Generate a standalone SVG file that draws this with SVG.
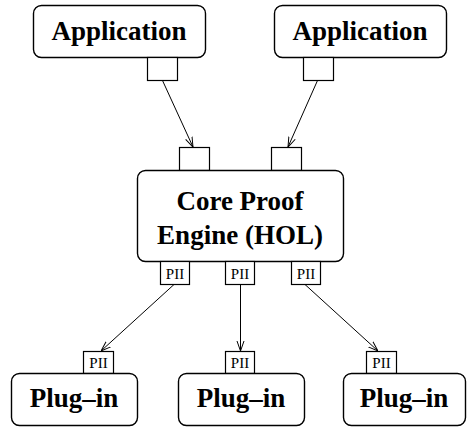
<svg xmlns="http://www.w3.org/2000/svg" width="467" height="427" viewBox="0 0 467 427">
<style>
.box{fill:#fff;stroke:#000;stroke-width:1.4}
.port{fill:#fff;stroke:#000;stroke-width:1.2}
.big{font-family:"Liberation Serif","Times New Roman",serif;font-weight:bold;font-size:27px;text-anchor:middle;fill:#000}
.small{font-family:"Liberation Serif","Times New Roman",serif;font-size:15px;text-anchor:middle;fill:#000}
.conn{stroke:#000;stroke-width:1;fill:none;marker-end:url(#arr)}
</style>
<defs>
<marker id="arr" viewBox="0 0 10 10" refX="10" refY="5" markerWidth="10" markerHeight="10" markerUnits="userSpaceOnUse" orient="auto">
<path d="M0,1.5 L10,5 L0,8.5" fill="none" stroke="#000" stroke-width="1"/>
</marker>
</defs>
<g id="app1">
<rect class="box" x="33.5" y="5.5" width="172" height="52" rx="8"/>
<text class="big" x="119" y="40">Application</text>
<rect class="port" x="147.5" y="57.5" width="30" height="23"/>
</g>
<g id="app2">
<rect class="box" x="274.5" y="5.5" width="172" height="52" rx="8"/>
<text class="big" x="360" y="40">Application</text>
<rect class="port" x="303.5" y="57.5" width="30" height="23"/>
</g>
<g id="core">
<rect class="port" x="179.5" y="147.5" width="30" height="23"/>
<rect class="port" x="271.5" y="147.5" width="30" height="23"/>
<rect class="box" x="137.5" y="170.5" width="206" height="91" rx="8"/>
<text class="big" x="240" y="210">Core Proof</text>
<text class="big" x="240" y="244">Engine (HOL)</text>
<rect class="port" x="160.5" y="261.5" width="29" height="23"/>
<text class="small" x="175" y="279">PII</text>
<rect class="port" x="225.5" y="261.5" width="29" height="23"/>
<text class="small" x="240" y="279">PII</text>
<rect class="port" x="291.5" y="261.5" width="29" height="23"/>
<text class="small" x="306" y="279">PII</text>
</g>
<g id="plugin1">
<rect class="port" x="83.5" y="351.5" width="30" height="22"/>
<text class="small" x="98.5" y="368">PII</text>
<rect class="box" x="11.5" y="373.5" width="126" height="52" rx="8"/>
<text class="big" x="74" y="407">Plug–in</text>
</g>
<g id="plugin2">
<rect class="port" x="225.5" y="351.5" width="29" height="22"/>
<text class="small" x="240" y="368">PII</text>
<rect class="box" x="178.5" y="373.5" width="126" height="52" rx="8"/>
<text class="big" x="241" y="407">Plug–in</text>
</g>
<g id="plugin3">
<rect class="port" x="366.5" y="351.5" width="30" height="22"/>
<text class="small" x="381.5" y="368">PII</text>
<rect class="box" x="343.5" y="373.5" width="122" height="52" rx="8"/>
<text class="big" x="404" y="407">Plug–in</text>
</g>
<g id="connectors">
<line class="conn" x1="162.5" y1="80.5" x2="193" y2="147"/>
<line class="conn" x1="317.5" y1="80.5" x2="288" y2="147"/>
<line class="conn" x1="174" y1="284.5" x2="101" y2="351"/>
<line class="conn" x1="240.5" y1="284.5" x2="240.5" y2="351"/>
<line class="conn" x1="305" y1="284.5" x2="378" y2="351"/>
</g>
</svg>
